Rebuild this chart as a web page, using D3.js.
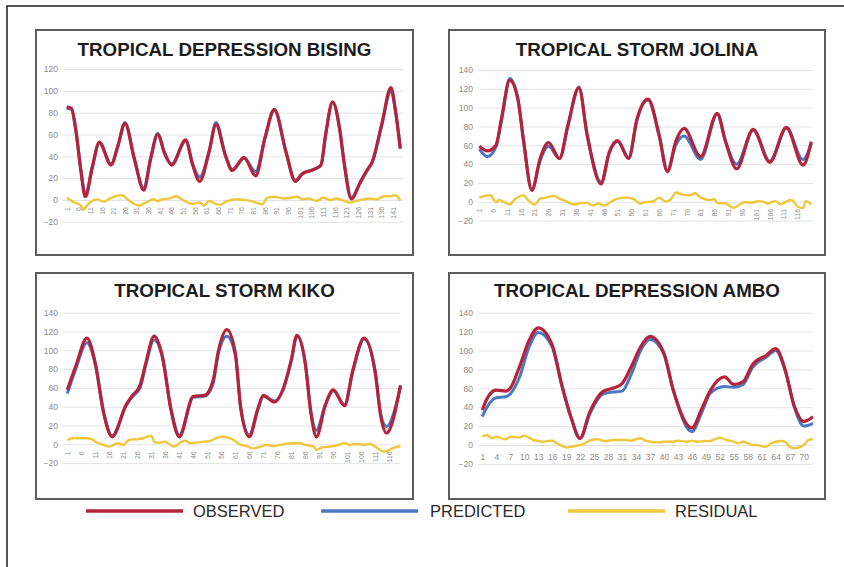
<!DOCTYPE html>
<html>
<head>
<meta charset="utf-8">
<script src="https://cdn.jsdelivr.net/npm/d3@7/dist/d3.min.js"></script>
<style>
  html, body { margin: 0; padding: 0; background: #fff; }
  svg { display: block; }
  text { font-family: "Liberation Sans", Arial, sans-serif; }
</style>
</head>
<body>
<svg id="chart" width="844" height="567"></svg>
<script>
// ---------------- DATA ----------------
const titles = ["TROPICAL DEPRESSION BISING", "TROPICAL STORM JOLINA", "TROPICAL STORM KIKO", "TROPICAL DEPRESSION AMBO"];
const legendLabels = ["OBSERVED", "PREDICTED", "RESIDUAL"];

const yTicksBising = [-20, 0, 20, 40, 60, 80, 100, 120];
const yTicksOther = [-20, 0, 20, 40, 60, 80, 100, 120, 140];

// Bising
const bisingCount = 144;
const bisingTicks = [1,6,11,16,21,26,31,36,41,46,51,56,61,66,71,76,81,86,91,96,101,106,111,116,121,126,131,136,141];
const bisingIdx = [1,3,5,7,9,12,15,20,23,26,30,34,37,40,43,46,52,55,58,62,65,69,72,77,82,86,90,95,99,102,107,110,112,115,118,120,123,127,130,132,136,140,142,144];
const bisingObserved = [85,84,63,28,3,30,53,32,50,70,38,9,38,60,43,32,55,32,17,44,69,41,27,39,22,57,83,44,17,24,28,32,60,90,65,33,1,17,28,35,69,103,81,47];
const bisingPredicted = [84,83,62,29,5,31,52,33,50,71,37,11,38,61,42,33,54,33,21,44,71,41,28,38,26,57,82,44,18,24,28,32,60,89,65,33,2,17,28,35,68,100,80,47];
const bisingResIdx = [1,4,7,8,11,14,17,20,22,25,27,30,32,35,38,40,42,45,48,51,55,58,60,62,65,67,70,74,77,80,82,85,87,91,94,97,100,102,105,108,111,114,117,120,122,125,128,131,134,137,140,142,144];
const bisingResidual = [2,-2,-5,-9,-2,0.5,-1.4,2,3.4,4.3,0.6,-3.7,-5,-2.3,0.6,-0.9,0.6,1.4,3.4,-0.3,-3.7,-2.3,-5,-0.9,-3.7,-4.3,-0.9,0.6,0,-0.9,-2.3,-3.7,2,2.6,1.4,2,2.9,0.6,1.4,-0.9,2,0,1.4,-0.9,-2.3,-0.9,0.6,1.4,0.6,3.4,3.4,4.3,-0.3];

// Jolina
const jolinaCount = 121;
const jolinaTicks = [1,6,11,16,21,26,31,36,41,46,51,56,61,66,71,76,81,86,91,96,101,106,111,116];
const jolinaIdx = [1,4,7,9,12,15,17,20,23,26,30,33,37,40,45,48,51,55,58,62,66,69,72,75,81,87,90,94,100,106,112,118,121];
const jolinaObserved = [59,54,60,88,129,108,65,12,46,63,46,81,121,71,19,53,65,46,88,109,71,32,64,78,48,94,64,35,77,42,79,39,64];
const jolinaPredicted = [56,48,58,86,131,109,64,13,44,59,46,80,122,70,21,52,64,47,87,108,70,33,60,70,45,93,64,40,76,43,78,45,62];
const jolinaResIdx = [1,3,5,7,8,10,12,14,16,17,19,21,23,25,28,30,33,35,37,40,42,44,46,49,51,54,57,59,61,64,66,68,70,72,74,77,79,81,84,86,87,90,93,95,97,99,102,104,105,108,110,111,114,116,118,119,121];
const jolinaResidual = [4.4,6.2,6.9,-0.4,1.8,-0.4,-2.9,3.3,6.2,6.9,0.7,-2.9,3.3,4.4,6.2,3.3,-0.4,-2.9,-1.8,-1.1,-4,-1.8,-4,0.7,3.3,4.4,2.5,-1.8,-0.4,0.7,4.4,0.7,1.8,9.8,8,6.9,9.1,4.4,1.8,2.5,-1.1,-1.8,-6.5,-2.9,-0.4,-1.1,0.7,-0.4,-1.8,0.7,-2.9,-1.1,1.8,-4.7,-6.5,0.7,-2.9];

// Kiko
const kikoCount = 120;
const kikoTicks = [1,6,11,16,21,26,31,36,41,46,51,56,61,66,71,76,81,86,91,96,101,106,111,116];
const kikoIdx = [1,4,8,11,14,17,22,24,27,29,32,35,38,41,46,50,53,55,58,61,63,66,69,71,75,78,81,83,86,88,90,93,96,100,103,107,111,113,115,120];
const kikoObserved = [58,83,113,86,33,8,42,51,63,86,115,93,37,8,51,52,67,100,122,97,37,8,37,52,45,58,90,116,86,33,8,40,58,41,79,113,76,29,12,63];
const kikoPredicted = [54,80,108,85,34,9,41,50,60,84,111,92,38,10,50,51,64,97,115,95,38,10,37,51,46,58,89,115,86,35,15,41,57,42,78,112,76,31,19,61];
const kikoResIdx = [1,3,5,8,10,11,14,16,19,21,23,26,28,31,32,34,36,39,41,43,45,47,50,52,54,56,58,60,63,65,67,70,72,75,77,79,82,84,86,89,90,92,95,97,100,102,104,107,109,111,114,116,117,120];
const kikoResidual = [4.6,6.4,6.4,6.4,5.3,2.8,-0.7,-2.5,1.1,-0.7,4.6,5.3,6.4,8.9,2.8,1.8,2.8,-2.5,1.1,3.9,1.1,1.8,2.8,3.5,6.4,8.2,7.4,5.3,-0.7,-1.8,-4.3,-2.5,-0.7,-1.8,-0.7,0.4,1.1,1.1,-0.7,-2.5,-6,-3.2,-2.5,-1.4,1.1,-0.7,0.4,-0.7,0.4,-2.5,-7.8,-6,-4.3,-1.8];

// Ambo
const amboCount = 72;
const amboTicks = [1,4,7,10,13,16,19,22,25,28,31,34,37,40,43,46,49,52,55,58,61,64,67,70];
const amboIdx = [1,2,4,6,7,9,11,13,16,18,20,22,24,27,29,31,33,35,37,40,42,46,48,50,53,55,57,59,62,64,66,68,70,72];
const amboObserved = [37,49,58,57,60,83,110,124,106,65,30,7,34,57,60,65,83,104,115,97,58,18,37,58,72,64,67,85,95,102,80,41,25,30];
const amboPredicted = [30,40,50,51,54,72,103,119,104,64,30,7,32,54,56,57,75,100,112,96,58,14,33,55,62,61,64,82,93,100,79,40,20,23];
const amboResIdx = [1,2,3,4,6,7,9,10,12,13,14,16,17,19,20,22,23,24,26,27,29,30,32,33,35,36,37,39,40,42,43,45,46,47,49,50,52,53,55,56,57,59,60,62,63,65,66,67,68,70,71,72];
const amboResidual = [8.8,10.6,7.1,8.8,6,8.8,8.1,9.9,5.3,4.2,3.5,4.6,1.8,-2.5,-1.8,0,1.8,4.6,6,4.2,5.3,5.3,5.3,4.6,7.1,4.6,3.5,2.8,3.5,3.5,4.6,3.5,4.6,3.5,4.2,4.2,7.8,6,3.5,1.8,3.5,0,0,-1.8,1.8,4.2,3.5,-1.8,-3.5,0,5.3,6];

// ---------------- LAYOUT ----------------
const colors = { observed: "#b5223a", predicted: "#4a78c2", residual: "#f0c63a" };

const panels = [
  { title: titles[0], box: [36, 30, 377, 225], titleY: 56, grid: [63, 403], xr: [66.7, 400.3], yr: [221.8, 69],
    ydom: [-20, 120], yTicks: yTicksBising, n: bisingCount, ticks: bisingTicks, rotate: true,
    idx: bisingIdx, obs: bisingObserved, pred: bisingPredicted, resIdx: bisingResIdx, res: bisingResidual },
  { title: titles[1], box: [449, 30, 376, 225], titleY: 56, grid: [478, 813], xr: [479.3, 811.3], yr: [220.6, 70],
    ydom: [-20, 140], yTicks: yTicksOther, n: jolinaCount, ticks: jolinaTicks, rotate: true,
    idx: jolinaIdx, obs: jolinaObserved, pred: jolinaPredicted, resIdx: jolinaResIdx, res: jolinaResidual },
  { title: titles[2], box: [36, 273, 377, 226], titleY: 297, grid: [63, 400], xr: [67.3, 400.5], yr: [463.1, 312.7],
    ydom: [-20, 140], yTicks: yTicksOther, n: kikoCount, ticks: kikoTicks, rotate: true,
    idx: kikoIdx, obs: kikoObserved, pred: kikoPredicted, resIdx: kikoResIdx, res: kikoResidual },
  { title: titles[3], box: [449, 273, 376, 226], titleY: 297, grid: [478, 813], xr: [482.3, 813], yr: [463.9, 312.7],
    ydom: [-20, 140], yTicks: yTicksOther, n: amboCount, ticks: amboTicks, rotate: false,
    idx: amboIdx, obs: amboObserved, pred: amboPredicted, resIdx: amboResIdx, res: amboResidual }
];

const svg = d3.select("#chart");
svg.append("rect").attr("width", 844).attr("height", 567).attr("fill", "#fff");
// outer frame
svg.append("rect").attr("x", 7).attr("y", 6).attr("width", 860).attr("height", 600)
  .attr("fill", "none").attr("stroke", "#1e1e1e").attr("stroke-width", 1.5);

panels.forEach(p => {
  const g = svg.append("g");
  g.append("rect").attr("x", p.box[0]).attr("y", p.box[1]).attr("width", p.box[2]).attr("height", p.box[3])
    .attr("fill", "#fff").attr("stroke", "#5c5c5c").attr("stroke-width", 2);

  g.append("text").attr("x", p.box[0] + p.box[2] / 2).attr("y", p.titleY)
    .attr("text-anchor", "middle").attr("font-size", 18.8).attr("font-weight", "bold")
    .attr("fill", "#1c1c1c").text(p.title);

  const x = d3.scaleLinear().domain([1, p.n]).range(p.xr);
  const y = d3.scaleLinear().domain(p.ydom).range(p.yr);

  // y axis + gridlines
  const ya = g.append("g").attr("transform", `translate(${p.grid[0]},0)`)
    .call(d3.axisLeft(y).tickValues(p.yTicks).tickSize(-(p.grid[1] - p.grid[0])).tickPadding(5));
  ya.select(".domain").remove();
  ya.selectAll(".tick line").attr("stroke", "#e3e3e3").attr("stroke-width", 1);
  ya.selectAll(".tick text").attr("fill", "#8c8c8c").attr("font-size", 8.5)
    .style("font-family", "'Liberation Sans', Arial, sans-serif");

  // x axis labels
  const y0 = y(0);
  if (p.rotate) {
    const xa = g.append("g").attr("transform", `translate(0,${y0 + 7})`)
      .call(d3.axisBottom(x).tickValues(p.ticks).tickSize(0).tickFormat(d3.format("d")));
    xa.select(".domain").remove();
    xa.selectAll(".tick text").attr("transform", "rotate(-90)").attr("text-anchor", "end")
      .attr("x", 0).attr("y", 0).attr("dy", "0.33em")
      .attr("fill", "#8c8c8c").attr("font-size", 7)
      .style("font-family", "'Liberation Sans', Arial, sans-serif");
  } else {
    const xa = g.append("g").attr("transform", `translate(0,${y0 + 15})`)
      .call(d3.axisBottom(x).tickValues(p.ticks).tickSize(0).tickFormat(d3.format("d")));
    xa.select(".domain").remove();
    xa.selectAll(".tick text").attr("y", 0).attr("dy", "0")
      .attr("fill", "#8c8c8c").attr("font-size", 8.5)
      .style("font-family", "'Liberation Sans', Arial, sans-serif");
  }

  const line = d3.line().x(d => x(d[0])).y(d => y(d[1])).curve(d3.curveMonotoneX);
  const lineR = d3.line().x(d => x(d[0])).y(d => y(d[1])).curve(d3.curveCatmullRom.alpha(0.5));

  g.append("path").datum(d3.zip(p.resIdx, p.res)).attr("d", lineR)
    .attr("fill", "none").attr("stroke", colors.residual).attr("stroke-width", 2.4).attr("stroke-linejoin", "round");
  g.append("path").datum(d3.zip(p.idx, p.pred)).attr("d", line)
    .attr("fill", "none").attr("stroke", colors.predicted).attr("stroke-width", 3).attr("stroke-linejoin", "round");
  g.append("path").datum(d3.zip(p.idx, p.obs)).attr("d", line)
    .attr("fill", "none").attr("stroke", colors.observed).attr("stroke-width", 3.2).attr("stroke-linejoin", "round");
});

// legend
const legendPos = [[86, 183, 193], [321, 418, 430], [568, 665, 675]];
const legendColors = [colors.observed, colors.predicted, colors.residual];
const lg = svg.append("g");
legendLabels.forEach((lab, i) => {
  const [x1, x2, tx] = legendPos[i];
  lg.append("line").attr("x1", x1).attr("x2", x2).attr("y1", 511).attr("y2", 511)
    .attr("stroke", legendColors[i]).attr("stroke-width", 3.5);
  lg.append("text").attr("x", tx).attr("y", 517).attr("font-size", 16.5)
    .attr("fill", "#2a2a2a").text(lab);
});
</script>
</body>
</html>
